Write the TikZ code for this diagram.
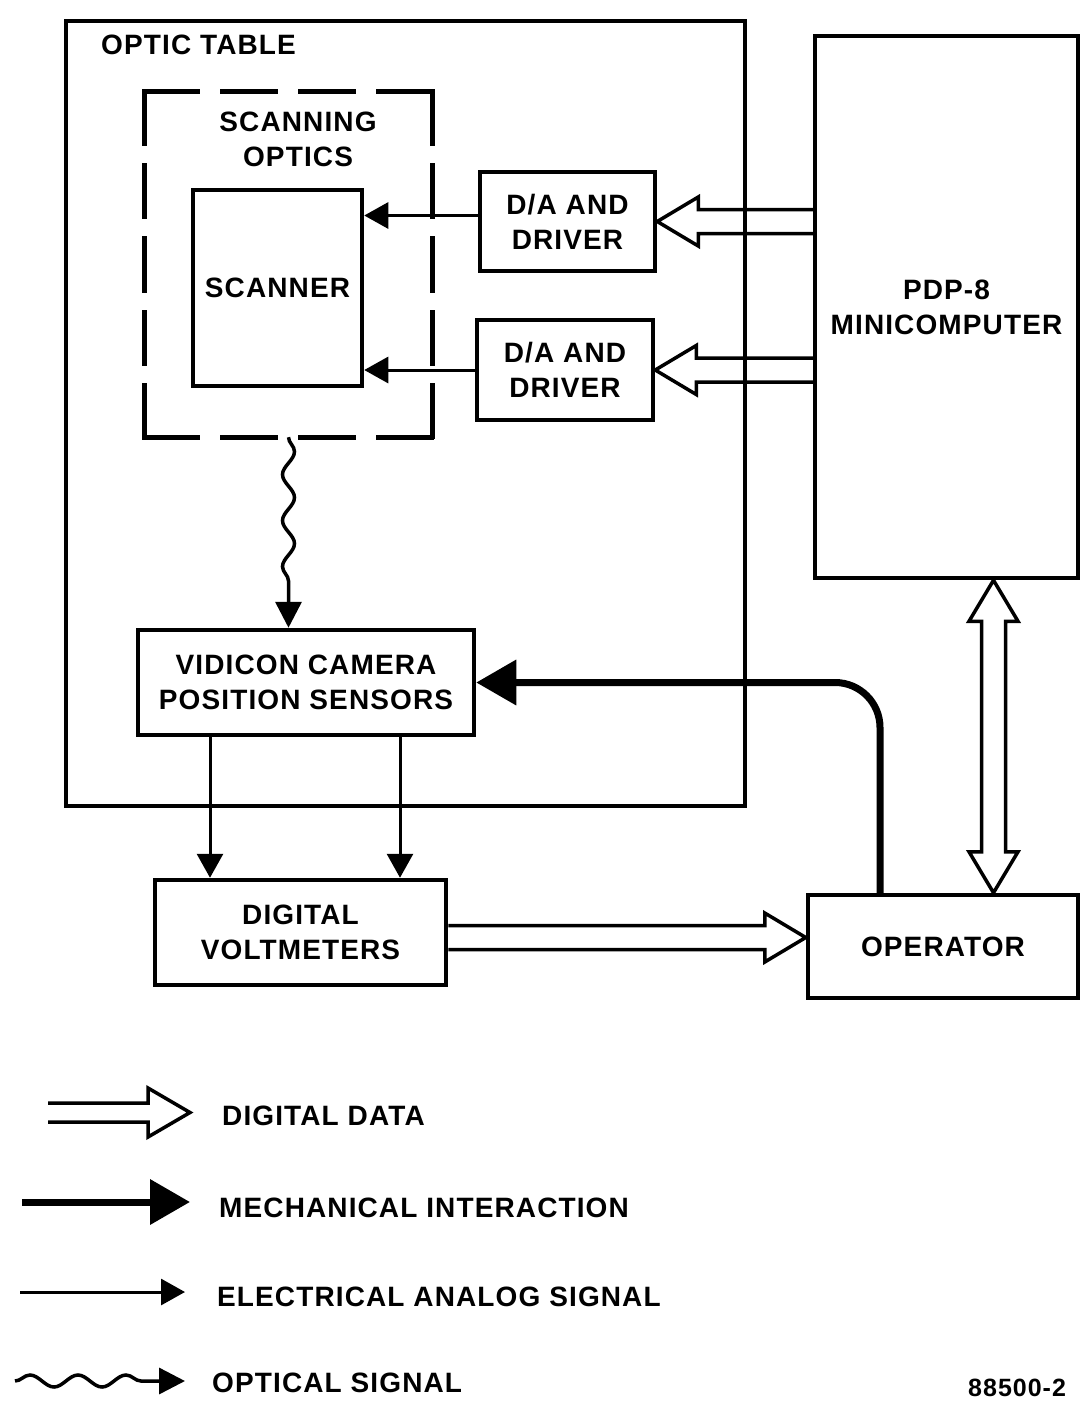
\documentclass[tikz,border=0pt]{standalone}
\usepackage{fontspec}
\setmainfont{Liberation Sans}[LetterSpace=4]
\usetikzlibrary{arrows.meta,decorations.pathmorphing,calc}

\newcommand\HAshaft{12pt}
\newcommand\HAhead{24.5pt}
\newcommand\HAlen{41pt}

% horizontal hollow (digital data) arrow: #1 tail point, #2 tip point, #3 direction (+1 right, -1 left)
\newcommand\hollowH[3]{%
  \draw[hollowline] let \p1=(#1),\p2=(#2) in
   (\x1,{\y2+\HAshaft}) -- ({\x2-(#3)*\HAlen},{\y2+\HAshaft})
   -- ({\x2-(#3)*\HAlen},{\y2+\HAhead}) -- (\x2,\y2)
   -- ({\x2-(#3)*\HAlen},{\y2-\HAhead}) -- ({\x2-(#3)*\HAlen},{\y2-\HAshaft})
   -- (\x1,{\y2-\HAshaft});}

% vertical double-headed hollow arrow: #1 upper tip, #2 lower tip
\newcommand\hollowV[2]{%
  \draw[hollowline] let \p1=(#1),\p2=(#2) in
   (\x1,\y1) -- ({\x1+\HAhead},{\y1-\HAlen}) -- ({\x1+\HAshaft},{\y1-\HAlen})
   -- ({\x1+\HAshaft},{\y2+\HAlen}) -- ({\x1+\HAhead},{\y2+\HAlen}) -- (\x1,\y2)
   -- ({\x1-\HAhead},{\y2+\HAlen}) -- ({\x1-\HAshaft},{\y2+\HAlen})
   -- ({\x1-\HAshaft},{\y1-\HAlen}) -- ({\x1-\HAhead},{\y1-\HAlen}) -- cycle;}

\tikzset{
  lbl/.style={font=\fontsize{28pt}{35pt}\selectfont\bfseries, align=center, inner sep=0pt},
  box/.style={lbl, draw, line width=4.5pt},
  dashside/.style={line width=5pt, line cap=rect},
  sig/.style={line width=3pt, -{Triangle[length=24pt,width=26pt]}},
  mech/.style={line width=7pt, rounded corners=45pt, -{Triangle[length=40pt,width=44pt]}},
  hollowline/.style={line width=3.5pt, line join=miter},
  optic/.style={line width=3.5pt, decorate,
     decoration={snake, segment length=46pt, amplitude=6pt, post length=26pt},
     -{Triangle[length=26pt,width=26pt]}},
}

\begin{document}
\begin{tikzpicture}[x=1pt,y=-1pt]
\useasboundingbox (0,0) rectangle (1081,1401);

% optic table
\node[draw, line width=4.5pt, minimum width=679pt, minimum height=785pt, inner sep=0pt] (table) at (405.5,413.5) {};
\node[lbl, anchor=west] (tablelbl) at (101,45) {OPTIC TABLE};

% scanning optics (dashed)
\node[minimum width=287pt, minimum height=345pt, inner sep=0pt] (optics) at (288.5,264.5) {};
\draw[dashside, dash pattern=on 53pt off 25pt] (optics.north west) -- (optics.north east);
\draw[dashside, dash pattern=on 53pt off 25pt] (optics.south west) -- (optics.south east);
\draw[dashside, dash pattern=on 51.4pt off 22pt] (optics.north west) -- (optics.south west);
\draw[dashside, dash pattern=on 51.4pt off 22pt] (optics.north east) -- (optics.south east);
\node[lbl] (opticslbl) at (298,139) {SCANNING\\OPTICS};

\node[box, minimum width=169pt, minimum height=196pt] (scanner) at (277.5,288) {SCANNER};
\node[box, minimum width=175pt, minimum height=99pt] (da1) at (567.5,221.5) {D/A AND\\DRIVER};
\node[box, minimum width=176pt, minimum height=100pt] (da2) at (565,370) {D/A AND\\DRIVER};
\node[box, minimum width=263pt, minimum height=542pt] (pdp) at (946.5,307) {PDP-8\\MINICOMPUTER};
\node[box, minimum width=336pt, minimum height=105pt] (vidicon) at (306,682.5) {VIDICON CAMERA\\POSITION SENSORS};
\node[box, minimum width=291pt, minimum height=105pt] (dvm) at (300.5,932.5) {DIGITAL\\VOLTMETERS};
\node[box, minimum width=270pt, minimum height=103pt] (operator) at (943,946.5) {OPERATOR};

% electrical analog signals
\draw[sig] ([yshift=6pt]da1.west) -- ([yshift=6pt]da1.west -| scanner.east);
\draw[sig] (da2.west) -- (da2.west -| scanner.east);
\draw[sig] ([xshift=-96pt]vidicon.south) -- ([xshift=-96pt]vidicon.south |- dvm.north);
\draw[sig] ([xshift=94pt]vidicon.south) -- ([xshift=94pt]vidicon.south |- dvm.north);

% digital data
\hollowH{pdp.west |- da1.east}{da1.east}{-1}
\hollowH{pdp.west |- da2.east}{da2.east}{-1}
\hollowH{[yshift=-5pt]dvm.east}{[yshift=-5pt]dvm.east -| operator.west}{1}
\hollowV{[xshift=47pt]pdp.south}{[xshift=47pt]pdp.south |- operator.north}

% mechanical interaction
\draw[mech] ([xshift=-63pt]operator.north) |- (vidicon.east);

% optical signal
\draw[optic] (optics.south) -- (optics.south |- vidicon.north);

% legend
\draw[hollowline] (48,1103) -- (148,1103) -- (148,1088) -- (190,1112.5) -- (148,1137) -- (148,1122) -- (48,1122);
\node[lbl, anchor=west] (lg1) at (222,1116) {DIGITAL DATA};
\draw[mech] (22,1202) -- (190,1202);
\node[lbl, anchor=west] (lg2) at (219,1208) {MECHANICAL INTERACTION};
\draw[sig] (20,1292) -- (185,1292);
\node[lbl, anchor=west] (lg3) at (217,1297) {ELECTRICAL ANALOG SIGNAL};
\draw[optic, decoration={snake, segment length=48pt, amplitude=6pt, post length=26pt}] (15,1381) -- (185,1381);
\node[lbl, anchor=west] (lg4) at (212,1383) {OPTICAL SIGNAL};

\node[font=\fontsize{25pt}{28pt}\selectfont\bfseries, anchor=north west, inner sep=0pt] (fig) at (968,1379) {88500-2};
\end{tikzpicture}
\end{document}
